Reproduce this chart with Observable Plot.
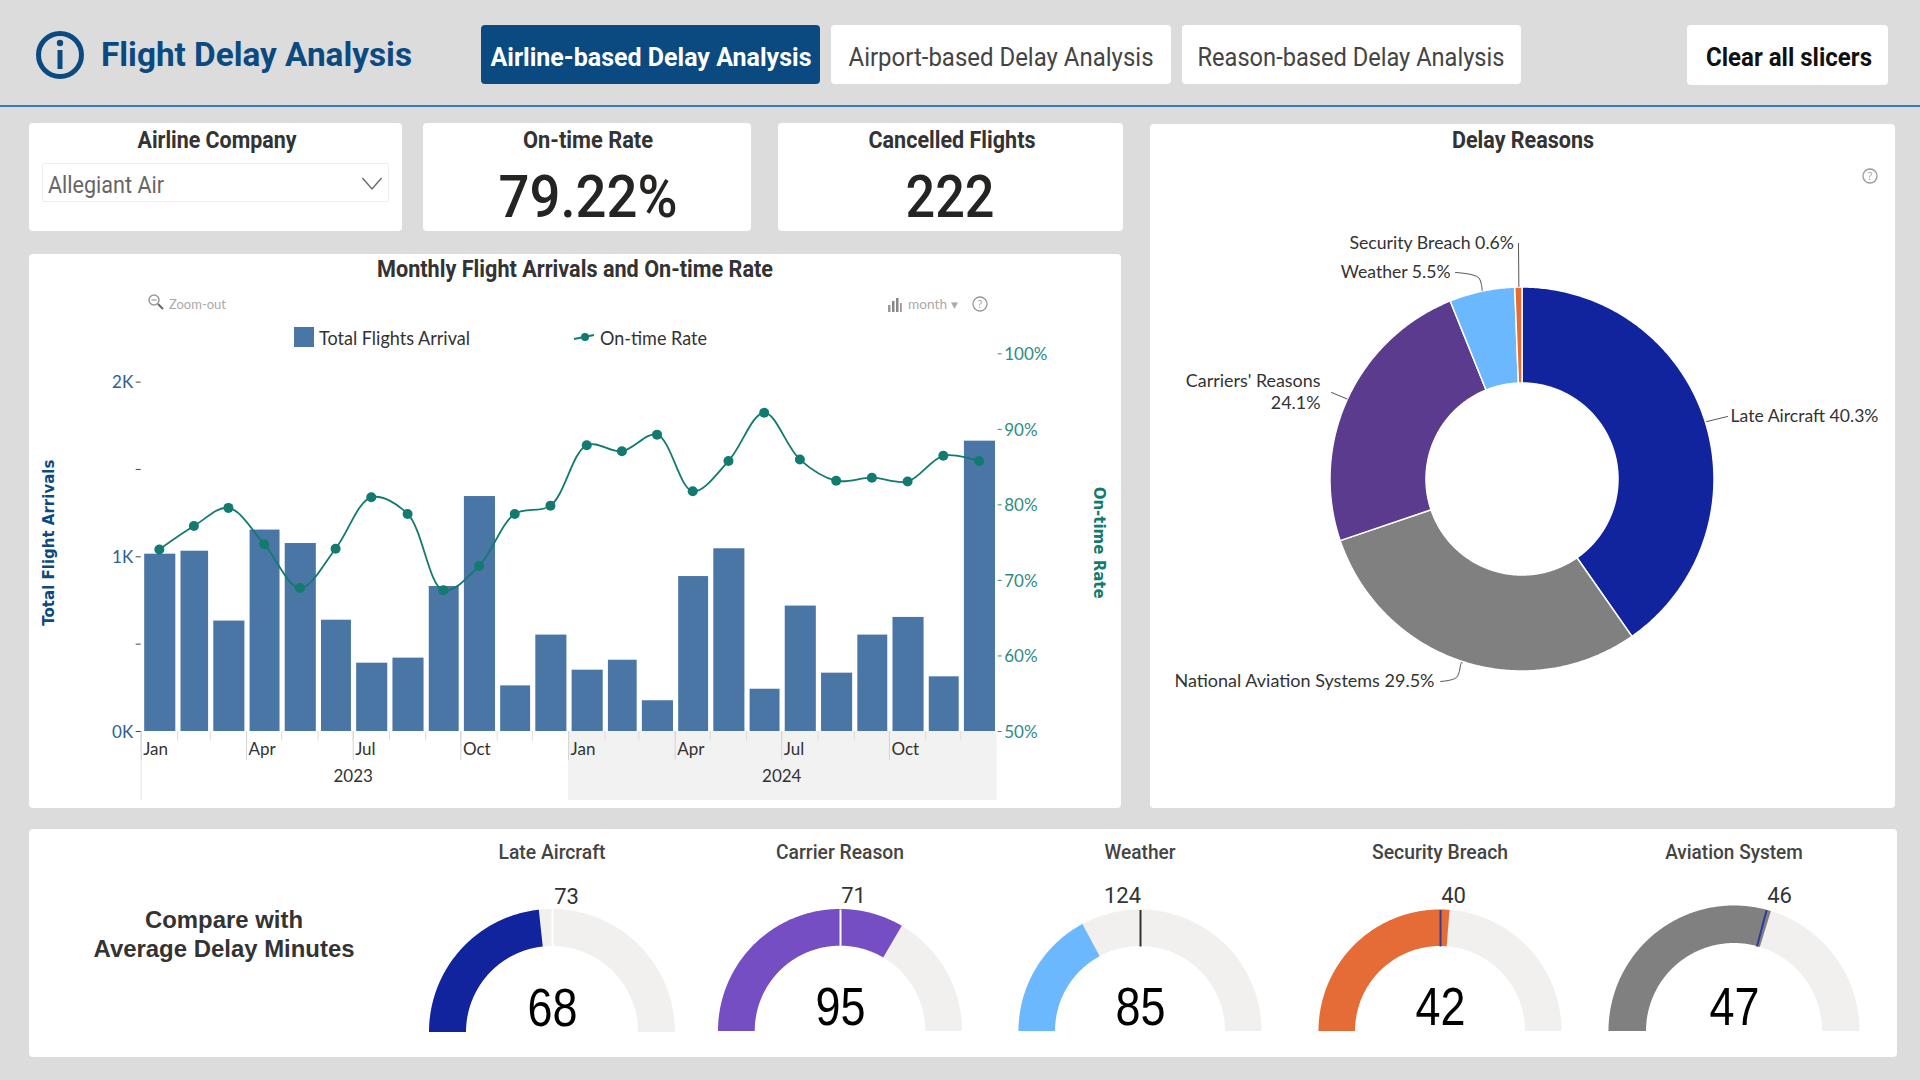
<!DOCTYPE html>
<html><head><meta charset="utf-8">
<script src="https://cdn.jsdelivr.net/npm/d3@7"></script>
<script src="https://cdn.jsdelivr.net/npm/@observablehq/plot@0.6"></script>
<style>
html,body{margin:0;padding:0;background:#dcdcdc;}
#page{position:relative;width:1920px;height:1080px;overflow:hidden;background:#dcdcdc;font-family:"Open Sans",sans-serif;}
.card{position:absolute;background:#fff;border-radius:4px;}
.t{position:absolute;white-space:nowrap;line-height:1;}
.abs{position:absolute;}
svg{overflow:visible;}
</style></head><body><div id="page"></div>
<script>
// ---------- data ----------
const monthIndex = d3.range(24);
const flights2023 = [1015,1032,632,1153,1076,637,391,420,830,1345,261,552];
const flights2024 = [351,408,176,887,1046,242,718,334,552,653,313,1662];
const onTime2023 = [74.1,77.2,79.6,74.8,69.0,74.2,81.0,78.8,68.7,71.9,78.8,79.9];
const onTime2024 = [87.9,87.1,89.3,81.8,85.8,92.2,86.0,83.2,83.6,83.1,86.5,85.8];
const reasonNames = ["Late Aircraft","National Aviation Systems","Carriers' Reasons","Weather","Security Breach"];
const reasonShares = [40.3,29.5,24.1,5.5,0.6];
const gaugeNames = ["Late Aircraft","Carrier Reason","Weather","Security Breach","Aviation System"];
const gaugeValues = [68,95,85,42,47];
const gaugeTargets = [73,71,124,40,46];
const gaugeMax = [146,142,248,80,79];
const onTimeRate = "79.22%";
const cancelledFlights = "222";
// ---------- styling ----------
const NAVY="#0b4a80", TEAL="#127a6e", BAR="#4a76a6";
const DIN='"Roboto",sans-serif', UI='"Lato","Open Sans",sans-serif', ARIAL='"Liberation Sans",Arial,sans-serif';
const reasonColors=["#12239e","#808080","#5a3b8e","#6cb8ff","#e66c37"];
const gaugeColors=["#12239e","#744ec2","#6cb8ff","#e66c37","#808080"];
const targetColors=["#ffffff","#ffffff","#333333","#3a3a8a","#2a3a9e"];
const page=document.getElementById("page");
function box(x0,y0,x1,y1,css){const d=document.createElement("div");d.className="card";d.style.cssText=`left:${x0}px;top:${y0}px;width:${x1-x0}px;height:${y1-y0}px;`+(css||"");page.appendChild(d);return d;}
function put(text,o){const d=document.createElement("div");d.className="t";d.textContent=text;
 d.style.cssText=`font-family:${o.f||DIN};font-size:${o.s}px;font-weight:${o.b||400};color:${o.c||"#252423"};top:${o.y}px;left:${o.x}px;`;
 page.appendChild(d);const nat=d.getBoundingClientRect().width;const sx=o.w?o.w/nat:1;
 if(o.left){d.style.transformOrigin="left center";d.style.transform=`translateY(-50%) scaleX(${sx})`;}
 else{d.style.transformOrigin="center center";d.style.transform=`translate(-50%,-50%) scaleX(${sx})`;}
 return d;}
function svgAt(x,y,w,h,inner){const d=document.createElement("div");d.className="abs";d.style.cssText=`left:${x}px;top:${y}px;width:${w}px;height:${h}px;`;d.innerHTML=`<svg width="${w}" height="${h}" viewBox="0 0 ${w} ${h}">${inner}</svg>`;page.appendChild(d);}
function mount(plot,x,y){plot.style.position="absolute";plot.style.left=x+"px";plot.style.top=y+"px";plot.style.background="transparent";plot.style.maxWidth="none";page.appendChild(plot);}

// ---------- header ----------
box(0,105,1920,107,"background:#3d7ab8;border-radius:0;");
svgAt(34,29,52,52,`<circle cx="26" cy="26" r="21.5" fill="none" stroke="${NAVY}" stroke-width="5"/><rect x="23.5" y="21" width="5" height="19" fill="${NAVY}"/><circle cx="26" cy="14" r="3.2" fill="${NAVY}"/>`);
put("Flight Delay Analysis",{x:101,y:54,w:311,s:34,b:700,c:NAVY,left:true});
box(481,25,820,84,`background:${NAVY};`);
put("Airline-based Delay Analysis",{x:650.5,y:57,w:321,s:26,b:700,c:"#fff"});
box(831,25,1171,84,"");
put("Airport-based Delay Analysis",{x:1001,y:57,w:305,s:26,c:"#444"});
box(1181.5,25,1521,84,"");
put("Reason-based Delay Analysis",{x:1351,y:57,w:307,s:26,c:"#444"});
box(1687,25,1888,85,"");
put("Clear all slicers",{x:1789,y:57,w:166,s:25,b:700,c:"#111"});

// ---------- KPI row ----------
box(29,123,402,231);box(423,123,751,231);box(777.5,123,1123,231);
put("Airline Company",{x:216.5,y:140,w:159,s:23,b:700,c:"#333"});
box(42,163,389,202,"border:1px solid #eee;box-sizing:border-box;border-radius:2px;");
put("Allegiant Air",{x:48,y:185,w:116,s:24,c:"#666",left:true});
svgAt(360,174,24,16,`<path d="M2.5 3 L12 14 L21.5 3" fill="none" stroke="#666" stroke-width="1.3"/>`);
put("On-time Rate",{x:588,y:140,w:130,s:23,b:700,c:"#333"});
put(onTimeRate,{x:588,y:197,w:179,s:60,b:500,c:"#252423"});
put("Cancelled Flights",{x:951.8,y:140,w:167,s:23,b:700,c:"#333"});
put(cancelledFlights,{x:950,y:197,w:89,s:60,b:500,c:"#252423"});

// ---------- combo chart ----------
box(29,254,1121,808);box(1150,124,1895,808);box(29,829,1897,1057);
put("Monthly Flight Arrivals and On-time Rate",{x:575,y:269,w:396,s:23,b:700,c:"#333"});
svgAt(147,293,18,18,`<circle cx="7" cy="7" r="5" fill="none" stroke="#999" stroke-width="1.5"/><path d="M11 11 L16 16" stroke="#666" stroke-width="2"/><path d="M4.5 7 H9.5" stroke="#999" stroke-width="1.2"/>`);
put("Zoom-out",{x:169,y:304,w:57,s:13,c:"#aaa",f:UI,left:true});
svgAt(887,295,15,15,`<rect x="1" y="8" width="2.5" height="7" fill="#999"/><rect x="5" y="4" width="2.5" height="11" fill="#888"/><rect x="9" y="1" width="2.5" height="14" fill="#888"/><rect x="13" y="6" width="1.8" height="9" fill="#999"/>`);
put("month ▾",{x:908,y:304,w:50,s:13,c:"#aaa",f:UI,left:true});
const help=(x,y)=>svgAt(x-9,y-9,18,18,`<circle cx="9" cy="9" r="7" fill="none" stroke="#999" stroke-width="1.3"/><text x="9" y="12.5" font-size="10" text-anchor="middle" fill="#999" font-family="Open Sans">?</text>`);
help(980,304);help(1870,176);
box(294,327,313.5,347,`background:${BAR};border-radius:0;`);
put("Total Flights Arrival",{x:319,y:336.5,w:151,s:19,f:UI,c:"#333",left:true});
svgAt(573,328,22,16,`<path d="M1 10 L21 6" stroke="${TEAL}" stroke-width="2"/><circle cx="12" cy="8" r="4" fill="${TEAL}"/>`);
put("On-time Rate",{x:600,y:336.5,w:107,s:19,f:UI,c:"#333",left:true});

const monthStart=i=>new Date(Date.UTC(2023,i,1));
const monthMid=i=>new Date((+monthStart(i)+ +monthStart(i+1))/2);
const flights=[...flights2023,...flights2024];
const onTime=[...onTime2023,...onTime2024];
const quarters=monthIndex.filter(i=>i%3===0);
const chartW=1092,chartH=554,mL=111.7,mR=124.3,mT=99.3,mB=77;
const xDomain=[monthStart(0),monthStart(24)];
const K=d=>d%1000===0?(d/1000)+"K":"";
const belowBand=395;   // axis-strip depth in flights units
const barsPlot=Plot.plot({width:chartW,height:chartH,marginLeft:mL,marginRight:mR,marginTop:mT,marginBottom:mB,
 style:{background:"transparent",fontFamily:UI,overflow:"visible"},
 x:{type:"utc",domain:xDomain,axis:null},
 y:{domain:[0,2162],axis:null},
 marks:[
  Plot.rect([2024],{x1:d=>new Date(Date.UTC(d,0,1)),x2:d=>new Date(Date.UTC(d+1,0,1)),y1:0,y2:-belowBand,fill:"#f2f2f2"}),
  Plot.ruleX([monthStart(0)],{y1:0,y2:-belowBand,stroke:"#e6e6e6"}),
  Plot.ruleX(monthIndex,{x:monthStart,y1:0,y2:-55,stroke:"#dddddd"}),
  Plot.ruleX(quarters,{x:monthStart,y1:0,y2:-165,stroke:"#d5d5d5"}),
  Plot.rectY(monthIndex,{x1:monthStart,x2:i=>monthStart(i+1),y1:0,y2:i=>flights[i],fill:BAR,insetLeft:3.5,insetRight:1.7}),
  Plot.axisY({ticks:[0,500,1000,1500,2000],tickFormat:()=>"",tickSize:5,label:null,stroke:"#444"}),
  Plot.axisY({ticks:[0,500,1000,1500,2000],tickFormat:K,tickSize:0,tickPadding:8,dy:0.8,label:null,color:"#2c5f92",fontSize:17}),
  Plot.text(quarters,{x:monthStart,text:i=>d3.utcFormat("%b")(monthStart(i)),frameAnchor:"bottom",dy:23,dx:2,textAnchor:"start",fontSize:17,fill:"#333"}),
  Plot.text([2023,2024],{x:d=>new Date(Date.UTC(d,6,1)),text:String,frameAnchor:"bottom",dy:50,fontSize:17,fill:"#333"}),
  Plot.text(["Total Flight Arrivals"],{text:d=>d,frameAnchor:"left",textAnchor:"middle",rotate:-90,dx:-91.7,fontFamily:'"DejaVu Sans"',fontWeight:"bold",fontSize:15,fill:NAVY})
 ]});
mount(barsPlot,29,254);
const linePlot=Plot.plot({width:chartW,height:chartH,marginLeft:mL,marginRight:mR,marginTop:mT,marginBottom:mB,
 style:{background:"transparent",fontFamily:UI,overflow:"visible"},
 x:{type:"utc",domain:xDomain,axis:null},
 y:{domain:[50,100],axis:null},
 marks:[
  Plot.axisY({anchor:"right",ticks:[50,60,70,80,90,100],tickFormat:()=>"",tickSize:4,label:null,color:"#2f8c80"}),
  Plot.axisY({anchor:"right",ticks:[50,60,70,80,90,100],tickFormat:d=>d+"%",tickSize:0,tickPadding:7,dy:0.8,label:null,color:"#2f8c80",fontSize:17}),
  Plot.line(monthIndex,{x:monthMid,y:i=>onTime[i],stroke:TEAL,strokeWidth:1.8,curve:"catmull-rom"}),
  Plot.dot(monthIndex,{x:monthMid,y:i=>onTime[i],r:5,fill:TEAL}),
  Plot.text(["On-time Rate"],{text:d=>d,frameAnchor:"right",textAnchor:"middle",rotate:90,dx:101.6,fontFamily:'"DejaVu Sans"',fontWeight:"bold",fontSize:15,fill:TEAL})
 ]});
mount(linePlot,29,254);

// ---------- donut ----------
put("Delay Reasons",{x:1523,y:140,w:142,s:23,b:700,c:"#333"});
const DX0=1150,DY0=124,DW=745,DH=684,DCX=1522,DCY=479,DR=192,Dr=96;
const ringPoint=(a,r)=>[DCX+r*Math.sin(a),DCY-r*Math.cos(a)];
let acc=0;
const slices=reasonShares.map((v,i)=>{const a0=acc/100*2*Math.PI;acc+=v;const a1=acc/100*2*Math.PI;return {name:reasonNames[i],v,a0,a1,mid:(a0+a1)/2,color:reasonColors[i]};});
const arcBand=(a0,a1,R,r)=>{const n=Math.max(2,Math.ceil((a1-a0)/0.01));return d3.range(n+1).map(k=>{const a=a0+(a1-a0)*k/n;const o=ringPoint(a,R),q=ringPoint(a,r);return {x1:o[0],y1:o[1],x2:q[0],y2:q[1]};});};
// leader waypoints and label anchors, in page layout units
const leaderVia=[[[1727,416]],[[1461,662],[1456,677],[1440,681]],[[1331,392]],[[1478,277],[1455,272]],[[1518,243]]];
const labelAt=[[1730,414.5,"start"],[1434,679.5,"end"],[1320,390,"end"],[1450,270.5,"end"],[1513.5,241.5,"end"]];
const labelSize=[17.6,18,17.9,17.6,17.7];
const labelTxt=s=>s.name==="Carriers' Reasons"?`${s.name}\n${s.v}%`:`${s.name} ${s.v}%`;
const donut=Plot.plot({width:DW,height:DH,margin:0,style:{background:"transparent",fontFamily:UI,overflow:"visible"},
 x:{domain:[DX0,DX0+DW],range:[0,DW],axis:null},
 y:{domain:[DY0,DY0+DH],range:[0,DH],axis:null},
 marks:[
  ...slices.map(s=>Plot.area(arcBand(s.a0,s.a1,DR,Dr),{x1:"x1",y1:"y1",x2:"x2",y2:"y2",fill:s.color,stroke:"white",strokeWidth:1.5})),
  ...slices.map((s,i)=>{const pts=[ringPoint(s.mid,DR+1),...leaderVia[i]];return Plot.line(pts,{x:d=>d[0],y:d=>d[1],stroke:"#555",strokeWidth:1,curve:pts.length>2?"catmull-rom":"linear"});}),
  ...slices.map((s,i)=>Plot.text([s],{x:labelAt[i][0],y:labelAt[i][1],text:labelTxt,textAnchor:labelAt[i][2],fontSize:labelSize[i],lineHeight:1.24,fill:"#333"}))
 ]});
mount(donut,DX0,DY0);

// ---------- gauges ----------
put("Compare with",{x:224,y:920,w:158,s:24,b:700,f:ARIAL,c:"#333"});
put("Average Delay Minutes",{x:224,y:949,w:261,s:24,b:700,f:ARIAL,c:"#333"});
const gaugeCx=[552,840,1140,1440.4,1734.4];
const gaugeBase=[1031.7,1030.7,1030.7,1030.7,1030.7];
const gaugeR=[123,122,121.5,121.5,125.5];
const gaugeRi=[86,85.3,85,85,88];
const titleW=[107,128,71,136,137.6];
const targetDx=[14,13,-18,13,45];
gaugeNames.forEach((name,i)=>{
 const cx=gaugeCx[i],by=gaugeBase[i],R=gaugeR[i],r=gaugeRi[i],W=290,H=170;
 put(name,{x:cx,y:852,w:titleW[i],s:21,b:500,c:"#444"});
 const ang=v=>-Math.PI/2+Math.PI*v/gaugeMax[i];
 const band=(a0,a1)=>{const n=Math.ceil((a1-a0)/0.01);return d3.range(n+1).map(k=>{const a=a0+(a1-a0)*k/n;return {x1:R*Math.sin(a),y1:R*Math.cos(a),x2:r*Math.sin(a),y2:r*Math.cos(a)};});};
 const ta=ang(gaugeTargets[i]);
 const p=Plot.plot({width:W,height:H,margin:0,style:{background:"transparent",overflow:"visible"},
  x:{domain:[-W/2,W/2],range:[0,W],axis:null},
  y:{domain:[0,H],range:[H,0],axis:null},
  marks:[
   Plot.area(band(-Math.PI/2,Math.PI/2),{x1:"x1",y1:"y1",x2:"x2",y2:"y2",fill:"#f1f0ee"}),
   Plot.area(band(-Math.PI/2,ang(gaugeValues[i])),{x1:"x1",y1:"y1",x2:"x2",y2:"y2",fill:gaugeColors[i]}),
   Plot.link([gaugeTargets[i]],{x1:r*Math.sin(ta),y1:r*Math.cos(ta),x2:R*Math.sin(ta),y2:R*Math.cos(ta),stroke:targetColors[i],strokeWidth:2}),
   Plot.text([gaugeValues[i]],{x:0,y:24,text:String,fontSize:54,fontFamily:ARIAL,fill:"#000"}),
   Plot.text([gaugeTargets[i]],{x:targetDx[i],y:136,text:String,fontSize:22,fontFamily:DIN,fill:"#333"})
  ]});
 mount(p,cx-W/2,by-H);
 // the reference digits are condensed: fit the value label to its measured width
 p.querySelectorAll("text").forEach(t=>{if(parseFloat(getComputedStyle(t).fontSize)>40){t.setAttribute("textLength","50");t.setAttribute("lengthAdjust","spacingAndGlyphs");}});
});
</script></body></html>
